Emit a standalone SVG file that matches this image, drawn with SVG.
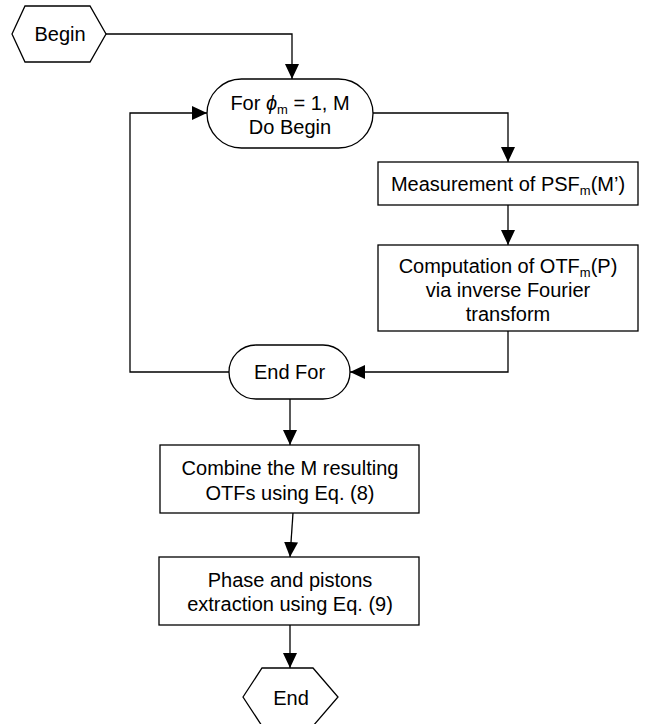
<svg xmlns="http://www.w3.org/2000/svg" width="645" height="724" viewBox="0 0 645 724">
<style>
.shape{fill:#fff;stroke:#000;stroke-width:1.3}
.conn{fill:none;stroke:#000;stroke-width:1.3}
text{font-family:"Liberation Sans",Arial,sans-serif;font-size:20px;fill:#000;text-anchor:middle}
.sub{font-size:13px}
</style>
<defs>
<marker id="arr" markerUnits="userSpaceOnUse" markerWidth="15" markerHeight="14" refX="15" refY="7" orient="auto">
<path d="M0,0 L15,7 L0,14 z" fill="#000"/>
</marker>
</defs>
<rect width="645" height="724" fill="#fff"/>
<g id="connectors">
<path class="conn" d="M106,34 H292 V79" marker-end="url(#arr)"/>
<path class="conn" d="M229,372 H130 V113 H207" marker-end="url(#arr)"/>
<path class="conn" d="M373,113 H508 V162" marker-end="url(#arr)"/>
<path class="conn" d="M508,205 V245" marker-end="url(#arr)"/>
<path class="conn" d="M508,331 V372 H350" marker-end="url(#arr)"/>
<path class="conn" d="M290,399 V445" marker-end="url(#arr)"/>
<path class="conn" d="M293,513 L290,557" marker-end="url(#arr)"/>
<path class="conn" d="M290,625 V668" marker-end="url(#arr)"/>
</g>
<g id="begin">
<polygon class="shape" points="12,34 25,6 90,6 106,34 90,62 25,62"/>
<text x="60" y="41">Begin</text>
</g>
<g id="for">
<rect class="shape" x="207" y="79" width="166" height="69" rx="34.5"/>
<text x="290" y="110">For <tspan font-style="italic">ϕ</tspan><tspan class="sub" dy="4">m</tspan><tspan dy="-4"> = 1, M</tspan></text>
<text x="290" y="134">Do Begin</text>
</g>
<g id="measurement">
<rect class="shape" x="378" y="162" width="260" height="43"/>
<text x="508" y="191">Measurement of PSF<tspan class="sub" dy="4">m</tspan><tspan dy="-4">(M’)</tspan></text>
</g>
<g id="computation">
<rect class="shape" x="378" y="245" width="260" height="86"/>
<text x="508" y="273">Computation of OTF<tspan class="sub" dy="4">m</tspan><tspan dy="-4">(P)</tspan></text>
<text x="508" y="297">via inverse Fourier</text>
<text x="508" y="321">transform</text>
</g>
<g id="endfor">
<rect class="shape" x="229" y="345" width="121" height="54" rx="27"/>
<text x="289.5" y="379">End For</text>
</g>
<g id="combine">
<rect class="shape" x="160" y="445" width="259" height="68"/>
<text x="290" y="475">Combine the M resulting</text>
<text x="290" y="500">OTFs using Eq. (8)</text>
</g>
<g id="phase">
<rect class="shape" x="159" y="557" width="260" height="68"/>
<text x="290" y="587">Phase and pistons</text>
<text x="290" y="611">extraction using Eq. (9)</text>
</g>
<g id="end">
<polygon class="shape" points="243,697 262,668 313,668 338,697 313,726 262,726"/>
<text x="291" y="705">End</text>
</g>
</svg>
